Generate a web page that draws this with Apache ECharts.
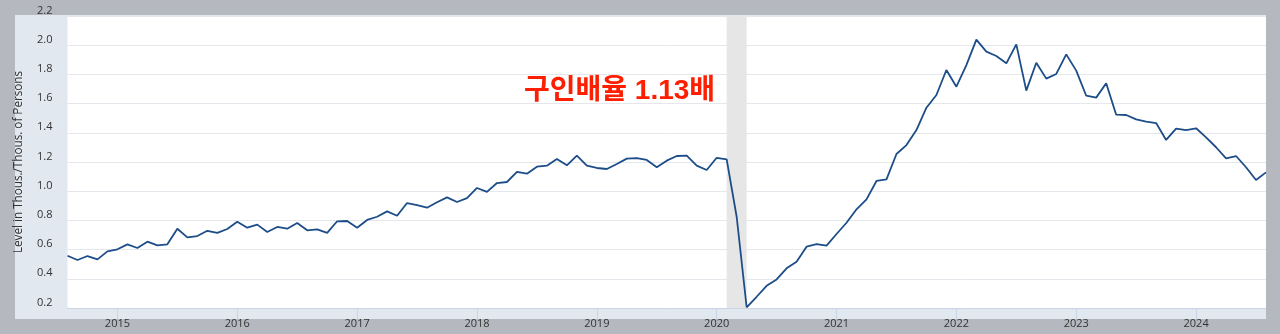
<!DOCTYPE html>
<html>
<head>
<meta charset="utf-8">
<script src="https://cdn.jsdelivr.net/npm/echarts@6/dist/echarts.min.js"></script>
<style>
  html, body { margin: 0; padding: 0; background: #b5b9bf; }
  #chart { width: 1280px; height: 334px; }
</style>
</head>
<body>
<div id="chart"></div>
<script>
// Monthly categories: 2014-08 .. 2024-08
const startYear = 2014, startMonth = 8, monthCount = 121;
const months = [];
for (let k = 0; k < monthCount; k++) {
  const m = startMonth - 1 + k;
  const y = startYear + Math.floor(m / 12);
  const mm = (m % 12) + 1;
  months.push(y + '-' + (mm < 10 ? '0' + mm : mm));
}

// Job openings per unemployed person (Level in Thous./Thous. of Persons)
const ratio = [
  0.558, 0.529, 0.556, 0.533, 0.588, 0.602, 0.636, 0.611, 0.654, 0.629, 0.636, 0.743,
  0.684, 0.693, 0.729, 0.714, 0.741, 0.791, 0.750, 0.771, 0.721, 0.755, 0.743, 0.782,
  0.732, 0.739, 0.714, 0.794, 0.796, 0.750, 0.803, 0.825, 0.862, 0.832, 0.919, 0.905,
  0.887, 0.924, 0.958, 0.926, 0.953, 1.022, 0.995, 1.056, 1.063, 1.132, 1.120, 1.168,
  1.175, 1.221, 1.177, 1.243, 1.175, 1.159, 1.152, 1.186, 1.223, 1.227, 1.214, 1.164,
  1.209, 1.241, 1.243, 1.175, 1.145, 1.229, 1.218, 0.825, 0.205, 0.277, 0.352, 0.396,
  0.472, 0.517, 0.620, 0.638, 0.627, 0.707, 0.784, 0.876, 0.944, 1.070, 1.081, 1.255,
  1.316, 1.419, 1.572, 1.659, 1.830, 1.716, 1.864, 2.038, 1.956, 1.926, 1.876, 2.006,
  1.689, 1.880, 1.771, 1.803, 1.937, 1.826, 1.654, 1.641, 1.739, 1.524, 1.522, 1.492,
  1.476, 1.467, 1.351, 1.428, 1.419, 1.431, 1.369, 1.301, 1.225, 1.241, 1.164, 1.077, 1.129
];

const recession = ['2020-02', '2020-04'];
const yTicks = { min: 0.2, max: 2.2, interval: 0.2 };
const yAxisName = 'Level in Thous./Thous. of Persons';
const annotation = '구인배율 1.13배';

const chart = echarts.init(document.getElementById('chart'), null, { renderer: 'canvas' });
chart.setOption({
  animation: false,
  backgroundColor: '#b5b9bf',
  graphic: [
    {
      type: 'rect', z: -10, silent: true,
      shape: { x: 15, y: 15, width: 1251, height: 304 },
      style: { fill: '#e1e8f0' }
    },
    {
      type: 'text', z: 100, silent: true,
      x: 524, y: 91,
      style: {
        text: annotation,
        fill: '#fe1e00',
        font: 'bold 28px "Liberation Sans", "Noto Sans CJK KR", sans-serif',
        verticalAlign: 'middle',
        align: 'left'
      }
    }
  ],
  grid: {
    left: 67.5, right: 14, top: 16, bottom: 26,
    containLabel: false,
    outerBoundsMode: 'none',
    show: true, backgroundColor: '#ffffff', borderWidth: 0
  },
  xAxis: {
    type: 'category',
    data: months,
    boundaryGap: false,
    axisLine: { lineStyle: { color: '#c9d5e4', width: 1 } },
    axisTick: {
      show: true, length: 11,
      interval: (idx, val) => val.endsWith('-01'),
      lineStyle: { color: '#c9d5e4' }
    },
    axisLabel: {
      interval: (idx, val) => val.endsWith('-01'),
      formatter: (val) => val.slice(0, 4),
      color: '#333', fontSize: 11, fontFamily: '"Open Sans", sans-serif',
      margin: 10
    },
    splitLine: { show: false }
  },
  yAxis: {
    type: 'value',
    min: yTicks.min, max: yTicks.max, interval: yTicks.interval,
    name: yAxisName,
    nameLocation: 'middle',
    nameGap: 43,
    nameTextStyle: { color: '#333', fontSize: 11.7, fontFamily: '"Open Sans", sans-serif' },
    axisLine: { show: false },
    axisTick: { show: false },
    axisLabel: {
      formatter: (v) => v.toFixed(1),
      color: '#333', fontSize: 11, fontFamily: '"Open Sans", sans-serif',
      margin: 15, verticalAlign: 'bottom'
    },
    splitLine: { lineStyle: { color: '#e4e7eb', width: 1 } }
  },
  series: [{
    type: 'line',
    data: ratio,
    showSymbol: false,
    symbol: 'none',
    lineStyle: { color: '#1d4d88', width: 1.8 },
    markArea: {
      silent: true,
      itemStyle: { color: '#e6e6e6' },
      data: [[{ xAxis: recession[0] }, { xAxis: recession[1] }]]
    },
    z: 5
  }]
});
</script>
</body>
</html>
